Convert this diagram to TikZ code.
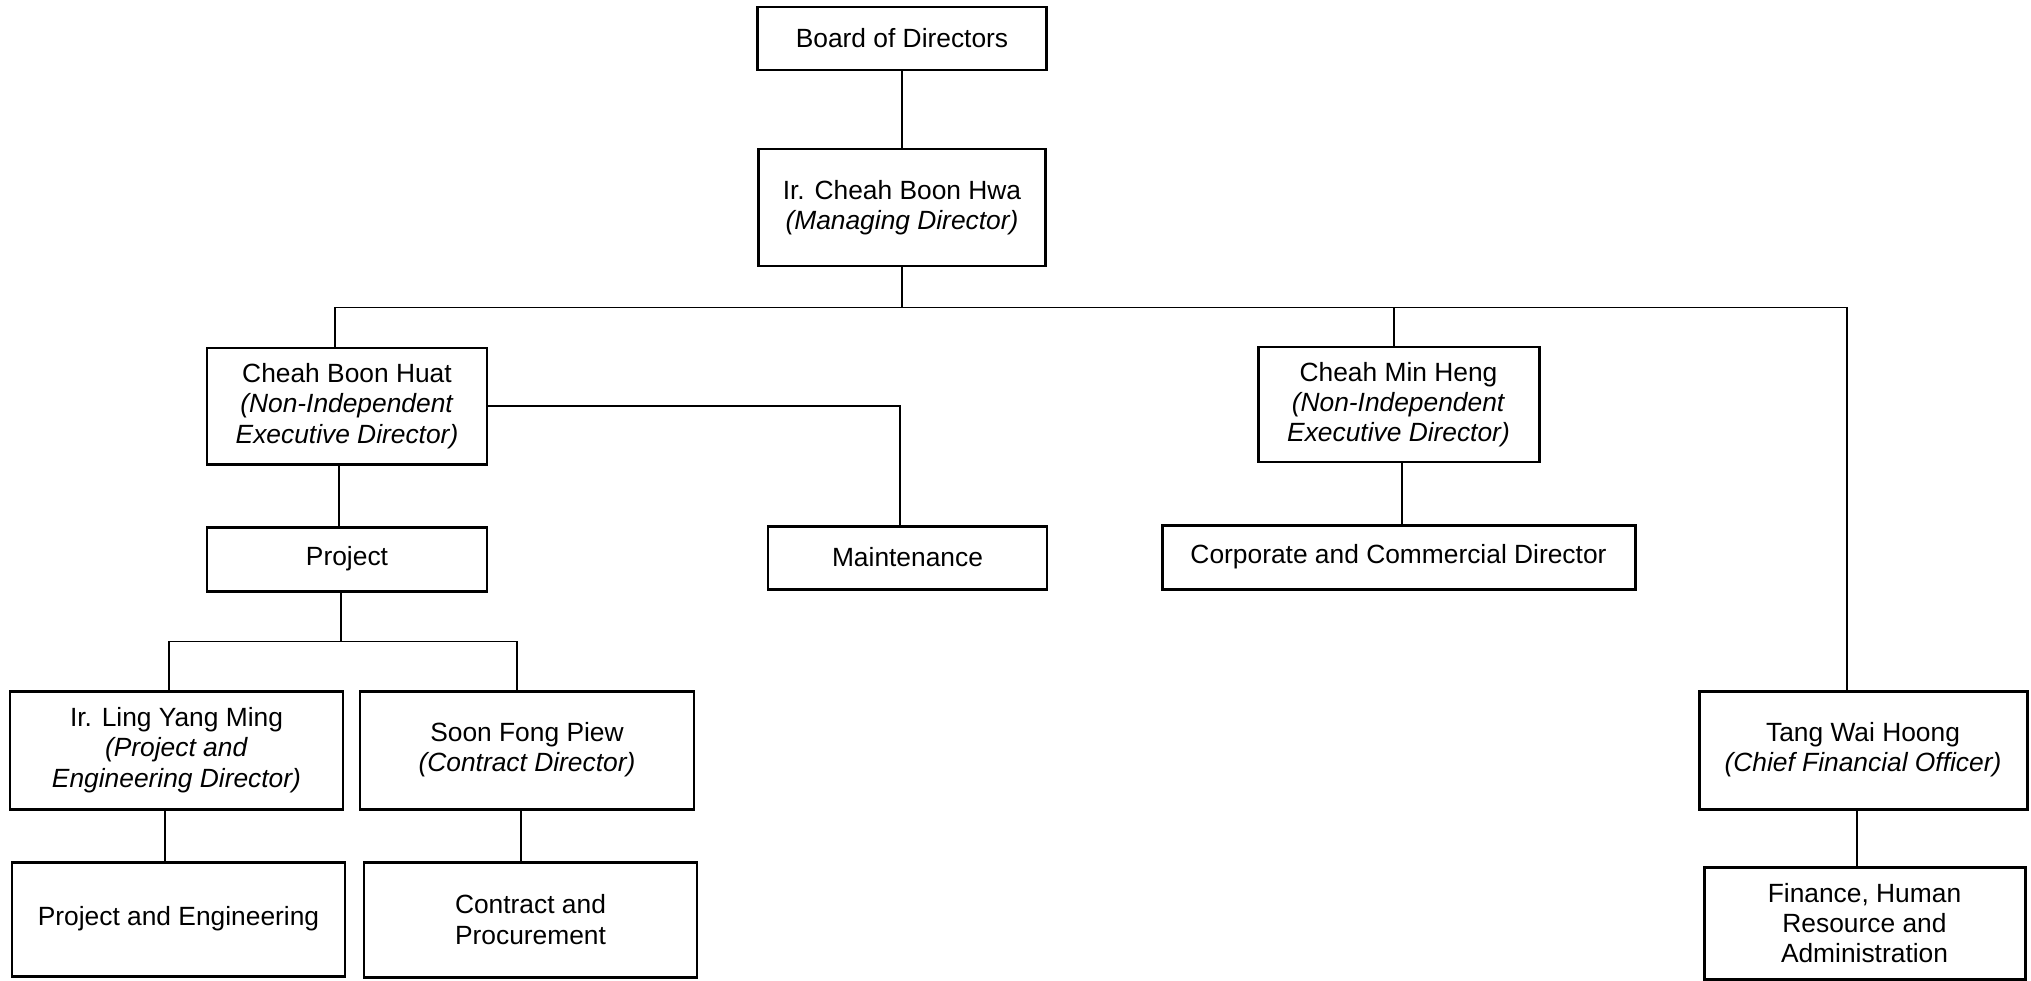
\documentclass[tikz,border=0pt]{standalone}
\usepackage{fontspec}
\setmainfont{Liberation Sans}
\usetikzlibrary{calc}

\begin{document}
\begin{tikzpicture}[
  post/.style={draw, line width=0.85pt, align=center, inner sep=0pt,
    font=\fontsize{7.5pt}{8.6pt}\selectfont},
  link/.style={line width=0.5pt}
]
  \useasboundingbox (0,0) rectangle (20.31,-9.81);

  % Board and managing director
  \node[post, minimum width=2.89cm, minimum height=0.63cm] (board) at (9.02,-0.385) {Board of Directors};
  \node[post, minimum width=2.87cm, minimum height=1.17cm] (md) at (9.02,-2.075)
    {Ir. Cheah Boon Hwa\\\textit{(Managing Director)}};

  % Executive directors
  \node[post, minimum width=2.80cm, minimum height=1.16cm] (huat) at (3.47,-4.06)
    {Cheah Boon Huat\\\textit{(Non-Independent}\\\textit{Executive Director)}};
  \node[post, minimum width=2.81cm, minimum height=1.15cm] (heng) at (13.985,-4.045)
    {Cheah Min Heng\\\textit{(Non-Independent}\\\textit{Executive Director)}};

  % Departments under them
  \node[post, minimum width=2.80cm, minimum height=0.64cm] (project) at (3.47,-5.59) {Project};
  \node[post, minimum width=2.79cm, minimum height=0.63cm] (maint) at (9.075,-5.575) {Maintenance};
  \node[post, minimum width=4.73cm, minimum height=0.64cm] (corp) at (13.985,-5.57) {Corporate and Commercial Director};

  % Directors
  \node[post, minimum width=3.33cm, minimum height=1.18cm] (ling) at (1.765,-7.50)
    {Ir. Ling Yang Ming\\\textit{(Project and}\\\textit{Engineering Director)}};
  \node[post, minimum width=3.34cm, minimum height=1.18cm] (soon) at (5.27,-7.50)
    {Soon Fong Piew\\\textit{(Contract Director)}};
  \node[post, minimum width=3.28cm, minimum height=1.18cm] (tang) at (18.63,-7.50)
    {Tang Wai Hoong\\\textit{(Chief Financial Officer)}};

  % Bottom row
  \node[post, minimum width=3.33cm, minimum height=1.14cm] (pe) at (1.785,-9.19) {Project and Engineering};
  \node[post, minimum width=3.33cm, minimum height=1.15cm] (cp) at (5.305,-9.195) {Contract and\\Procurement};
  \node[post, minimum width=3.21cm, minimum height=1.12cm] (fin) at (18.645,-9.23)
    {Finance, Human\\Resource and\\Administration};

  % Lines from the top
  \draw[link] (board) -- (md);
  \coordinate (bus) at ($(md.south)+(0,-0.40)$);
  \draw[link] (md.south) -- (bus);
  \draw[link] ([xshift=-0.12cm]huat.north) |- (bus) -| ([xshift=-0.16cm]tang.north);
  \draw[link] ([xshift=-0.045cm]heng.north) -- ([xshift=-0.045cm]heng.north |- bus);

  % Lines under Cheah Boon Huat
  \draw[link] (huat.east) -| ([xshift=-0.075cm]maint.north);
  \draw[link] ([xshift=-0.08cm]huat.south) -- ([xshift=-0.08cm]project.north);
  \coordinate (split) at ($(project.south)+(-0.06,-0.49)$);
  \draw[link] ([xshift=-0.06cm]project.south) -- (split);
  \draw[link] ([xshift=-0.075cm]ling.north) |- (split) -| ([xshift=-0.10cm]soon.north);
  \draw[link] ([xshift=-0.115cm]ling.south) -- ([xshift=-0.115cm]ling.south |- pe.north);
  \draw[link] ([xshift=-0.06cm]soon.south) -- ([xshift=-0.06cm]soon.south |- cp.north);

  % Lines on the right
  \draw[link] ([xshift=0.035cm]heng.south) -- ([xshift=0.035cm]heng.south |- corp.north);
  \draw[link] ([xshift=-0.06cm]tang.south) -- ([xshift=-0.06cm]tang.south |- fin.north);
\end{tikzpicture}
\end{document}
